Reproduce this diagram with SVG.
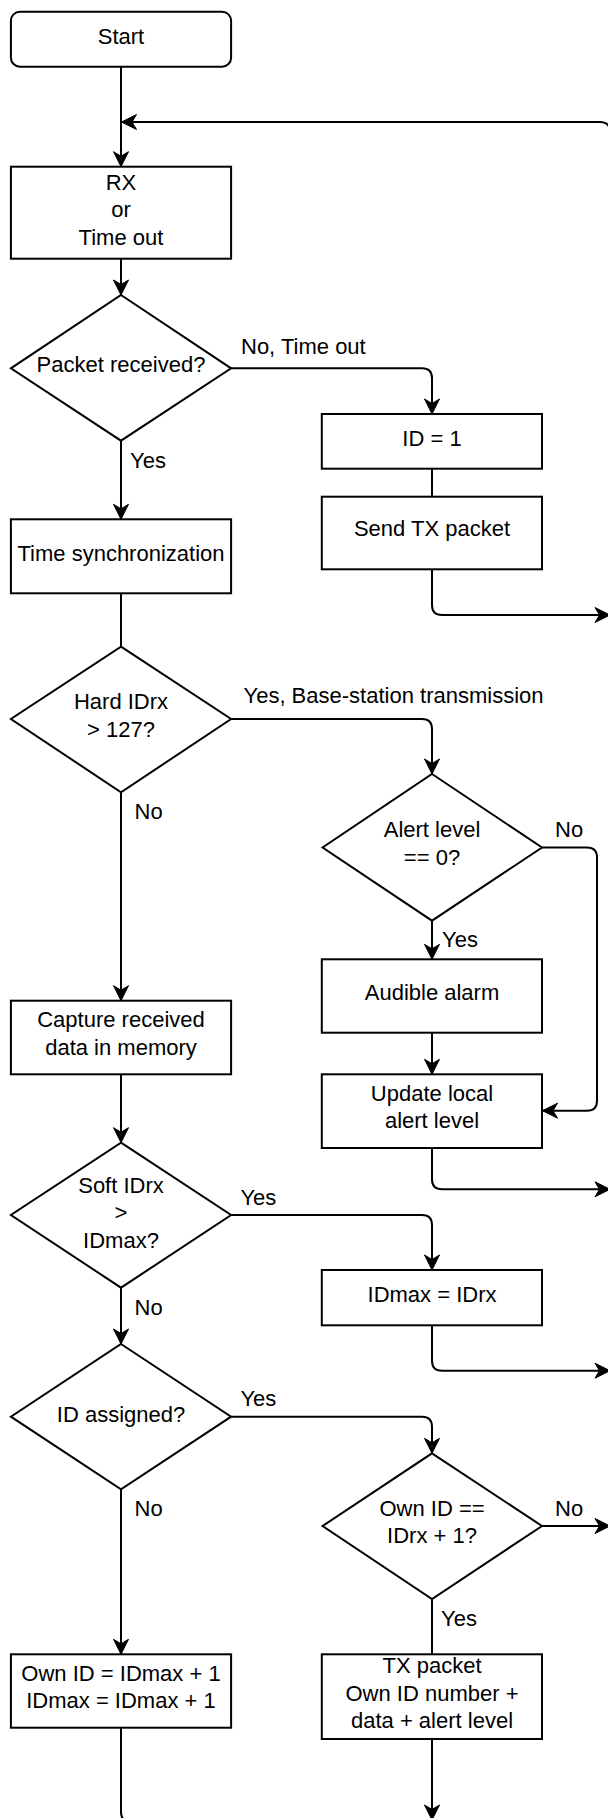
<svg xmlns="http://www.w3.org/2000/svg" width="608" height="1818" viewBox="0 0 608 1818">
  <style>
    .box { fill: #ffffff; stroke: #000000; stroke-width: 2; }
    .edge { fill: none; stroke: #000000; stroke-width: 2; }
    .arr { marker-end: url(#head); }
    text { font-family: "Liberation Sans", Arial, sans-serif; font-size: 22px; fill: #000000; }
    .c { text-anchor: middle; }
  </style>
  <defs>
    <marker id="head" markerUnits="userSpaceOnUse" viewBox="-16 -9 18 18" markerWidth="18" markerHeight="18" refX="0" refY="0" orient="auto">
      <path d="M0,0 L-15,-7.5 L-10.5,0 L-15,7.5 Z" fill="#000000" stroke="#000000" stroke-width="1" stroke-linejoin="miter"/>
    </marker>
  </defs>

  <!-- connectors -->
  <g id="connectors">
    <path class="edge arr" d="M121,66.7 L121,166.7"/>
    <path class="edge arr" d="M610,150 L610,132 Q610,122 600,122 L121.5,122"/>
    <path class="edge arr" d="M121,258.7 L121,295"/>
    <path class="edge arr" d="M231.1,368.3 L422,368.3 Q432,368.3 432,378.3 L432,414"/>
    <path class="edge" d="M432,468.7 L432,496.7"/>
    <path class="edge arr" d="M432,569.3 L432,605 Q432,615 442,615 L610,615"/>
    <path class="edge arr" d="M121,440.7 L121,519.3"/>
    <path class="edge" d="M121,593.3 L121,646.7"/>
    <path class="edge arr" d="M231.1,719 L422,719 Q432,719 432,729 L432,774"/>
    <path class="edge arr" d="M121,792.3 L121,1000.7"/>
    <path class="edge arr" d="M432,920.7 L432,959.3"/>
    <path class="edge arr" d="M432,1032.7 L432,1074.3"/>
    <path class="edge arr" d="M542,847.5 L587,847.5 Q597,847.5 597,857.5 L597,1100.7 Q597,1110.7 587,1110.7 L542.5,1110.7"/>
    <path class="edge arr" d="M432,1148 L432,1179.3 Q432,1189.3 442,1189.3 L610,1189.3"/>
    <path class="edge arr" d="M121,1074.3 L121,1142.7"/>
    <path class="edge arr" d="M231.1,1215 L422,1215 Q432,1215 432,1225 L432,1270"/>
    <path class="edge arr" d="M432,1325.3 L432,1360.7 Q432,1370.7 442,1370.7 L610,1370.7"/>
    <path class="edge arr" d="M121,1287.7 L121,1344"/>
    <path class="edge arr" d="M231.1,1416.7 L422,1416.7 Q432,1416.7 432,1426.7 L432,1453.3"/>
    <path class="edge arr" d="M542,1526 L610,1526"/>
    <path class="edge arr" d="M121,1489.3 L121,1654.3"/>
    <path class="edge" d="M432,1599 L432,1654.3"/>
    <path class="edge" d="M121,1727.7 L121,1812 Q121,1822 131,1822 L200,1822"/>
    <path class="edge arr" d="M432,1739 L432,1820"/>
  </g>

  <!-- edge labels -->
  <g id="labels">
    <text x="241" y="353.5">No, Time out</text>
    <text x="130" y="468">Yes</text>
    <text x="243.5" y="703">Yes, Base-station transmission</text>
    <text x="134.5" y="819">No</text>
    <text x="555" y="837.3">No</text>
    <text x="442" y="946.7">Yes</text>
    <text x="240.4" y="1205">Yes</text>
    <text x="134.5" y="1315">No</text>
    <text x="240.4" y="1406">Yes</text>
    <text x="134.5" y="1516">No</text>
    <text x="555" y="1516">No</text>
    <text x="441" y="1626">Yes</text>
  </g>

  <g id="start">
    <rect class="box" x="10.9" y="11.7" width="220.2" height="55" rx="9" ry="9"/>
    <text class="c" x="121" y="43.5">Start</text>
  </g>

  <g id="rx-or-timeout">
    <rect class="box" x="10.9" y="166.7" width="220.2" height="92"/>
    <text class="c" x="121" y="189.5">RX</text>
    <text class="c" x="121" y="217.3">or</text>
    <text class="c" x="121" y="245">Time out</text>
  </g>

  <g id="packet-received">
    <polygon class="box" points="121,295 231.1,368.3 121,440.7 10.9,368.3"/>
    <text class="c" x="121" y="371.5">Packet received?</text>
  </g>

  <g id="id-one">
    <rect class="box" x="321.8" y="414" width="220.2" height="54.7"/>
    <text class="c" x="432" y="446">ID = 1</text>
  </g>

  <g id="send-tx">
    <rect class="box" x="321.8" y="496.7" width="220.2" height="72.6"/>
    <text class="c" x="432" y="536.4">Send TX packet</text>
  </g>

  <g id="time-sync">
    <rect class="box" x="10.9" y="519.3" width="220.2" height="74"/>
    <text class="c" x="121" y="560.8">Time synchronization</text>
  </g>

  <g id="hard-idrx">
    <polygon class="box" points="121,646.7 231.1,719 121,792.3 10.9,719"/>
    <text class="c" x="121" y="709.3">Hard IDrx</text>
    <text class="c" x="121" y="736.7">&gt; 127?</text>
  </g>

  <g id="alert-level">
    <polygon class="box" points="432,774 542,847.5 432,920.7 322.6,847.5"/>
    <text class="c" x="432" y="837.3">Alert level</text>
    <text class="c" x="432" y="865">== 0?</text>
  </g>

  <g id="audible-alarm">
    <rect class="box" x="321.8" y="959.3" width="220.2" height="73.4"/>
    <text class="c" x="432" y="1000">Audible alarm</text>
  </g>

  <g id="update-alert">
    <rect class="box" x="321.8" y="1074.3" width="220.2" height="73.7"/>
    <text class="c" x="432" y="1101">Update local</text>
    <text class="c" x="432" y="1128.3">alert level</text>
  </g>

  <g id="capture-data">
    <rect class="box" x="10.9" y="1000.7" width="220.2" height="73.6"/>
    <text class="c" x="121" y="1027.3">Capture received</text>
    <text class="c" x="121" y="1055">data in memory</text>
  </g>

  <g id="soft-idrx">
    <polygon class="box" points="121,1142.7 231.1,1215 121,1287.7 10.9,1215"/>
    <text class="c" x="121" y="1192.7">Soft IDrx</text>
    <text class="c" x="121" y="1220.4">&gt;</text>
    <text class="c" x="121" y="1248">IDmax?</text>
  </g>

  <g id="idmax-set">
    <rect class="box" x="321.8" y="1270" width="220.2" height="55.3"/>
    <text class="c" x="432" y="1302.3">IDmax = IDrx</text>
  </g>

  <g id="id-assigned">
    <polygon class="box" points="121,1344 231.1,1416.7 121,1489.3 10.9,1416.7"/>
    <text class="c" x="121" y="1421.5">ID assigned?</text>
  </g>

  <g id="own-id-check">
    <polygon class="box" points="432,1453.3 542,1526 432,1599 322.6,1526"/>
    <text class="c" x="432" y="1516">Own ID ==</text>
    <text class="c" x="432" y="1543.3">IDrx + 1?</text>
  </g>

  <g id="own-id-assign">
    <rect class="box" x="10.9" y="1654.3" width="220.2" height="73.4"/>
    <text class="c" x="121" y="1681">Own ID = IDmax + 1</text>
    <text class="c" x="121" y="1708.3">IDmax = IDmax + 1</text>
  </g>

  <g id="tx-packet">
    <rect class="box" x="321.8" y="1654.3" width="220.2" height="84.7"/>
    <text class="c" x="432" y="1673">TX packet</text>
    <text class="c" x="432" y="1701">Own ID number +</text>
    <text class="c" x="432" y="1728.3">data + alert level</text>
  </g>
</svg>
